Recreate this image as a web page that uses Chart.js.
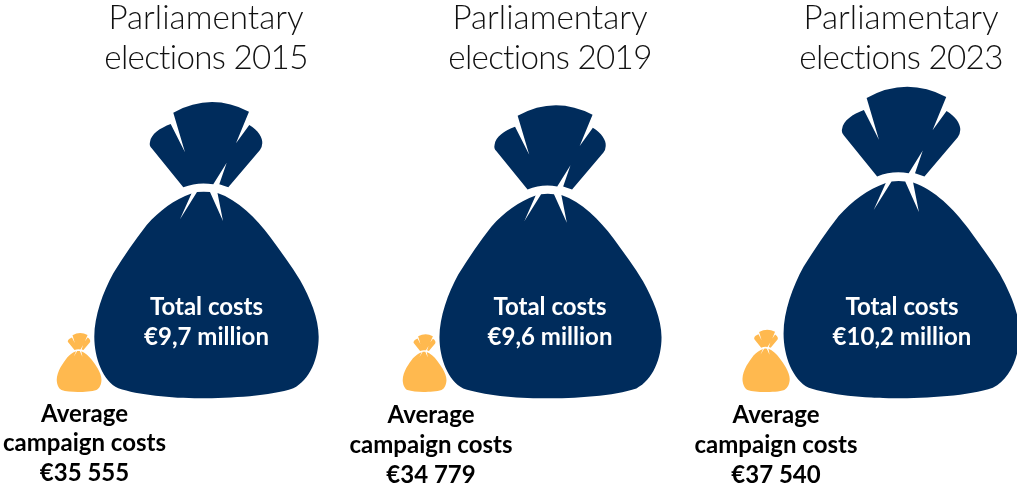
<!DOCTYPE html>
<html lang="en">
<head>
<meta charset="utf-8">
<title>Campaign costs</title>
<script src="https://cdn.jsdelivr.net/npm/chart.js@4"></script>
<style>
  html, body { margin: 0; background: #fff; }
  #wrap { position: relative; width: 1017px; height: 487px; overflow: hidden; }
</style>
</head>
<body>
<div id="wrap"><canvas id="bags"></canvas></div>
<script>
const years = [2015, 2019, 2023];
const totalCosts = [9.7, 9.6, 10.2];
const averageCosts = [35555, 34779, 37540];

const NAVY = "#002c5c";
const AMBER = "#ffb94f";

/* Bag outline, drawn for a bag 296 units tall, origin at the bottom centre */
const BAG_HEIGHT = 296;
function bagPath(ctx) {
  // neck and the three lobes
  ctx.moveTo(-32.7, -285.3);
  ctx.quadraticCurveTo(5, -306, 43, -286.3);
  ctx.lineTo(30, -254.7);
  ctx.lineTo(43.3, -273);
  ctx.bezierCurveTo(52, -268, 57, -260, 56.3, -254.7);
  ctx.quadraticCurveTo(56, -250, 54, -248);
  ctx.lineTo(22.3, -210.7);
  ctx.lineTo(13.3, -213.7);
  ctx.lineTo(20.7, -235.3);
  ctx.lineTo(7.3, -213.7);
  ctx.quadraticCurveTo(-8, -216.5, -22.7, -210.7);
  ctx.lineTo(-54.3, -249.7);
  ctx.quadraticCurveTo(-57, -252, -56, -256);
  ctx.bezierCurveTo(-55, -264, -46, -270, -35.3, -274);
  ctx.lineTo(-21, -245.7);
  ctx.closePath();
  // body with the two creases under the neck
  ctx.moveTo(-14.5, -204.5);
  ctx.lineTo(-26, -178.7);
  ctx.lineTo(-9, -206);
  ctx.quadraticCurveTo(-2, -206.6, 4, -206);
  ctx.lineTo(17, -177);
  ctx.lineTo(11.5, -205);
  ctx.bezierCurveTo(32, -198, 50, -180, 64, -161.3);
  ctx.bezierCurveTo(75, -146, 85, -133, 94, -118);
  ctx.bezierCurveTo(104, -100, 112.7, -80, 112.7, -61.3);
  ctx.bezierCurveTo(112.7, -40, 104, -18, 87.3, -9.7);
  ctx.bezierCurveTo(65, -2, 25, 0.3, -6, 0.3);
  ctx.bezierCurveTo(-35, 0.3, -68, -3, -87.7, -9.7);
  ctx.bezierCurveTo(-103, -17, -111.7, -40, -111.7, -61.3);
  ctx.bezierCurveTo(-111.7, -82, -103, -106, -92.7, -124.7);
  ctx.bezierCurveTo(-82, -142, -71, -158, -59.3, -173);
  ctx.bezierCurveTo(-46, -188, -32, -198, -14.5, -204.5);
  ctx.closePath();
}

/* The columns are not quite evenly spaced, so each bag gets a small sideways shift */
const totalBagShift = [0, -3.5, 0];
const averageBagShift = [0, 2, 0];

/* Text anchors per column */
const titleCentre = [206, 550, 901];
const totalCentre = [206.5, 550, 902];
const averageCentre = [84.5, 431, 776];
const averageFirstLine = [414, 415, 415];
const averageStep = [29.5, 30, 30];

const TITLE_FONT = "300 33.2px Lato";
const LABEL_FONT = "700 24px Lato";

const euro = (n) => String(n).replace(/\B(?=(\d{3})+$)/g, " ");

const bagPlugin = {
  id: "bags",
  afterDatasetsDraw(chart) {
    const { ctx } = chart;
    chart.data.datasets.forEach((ds, d) => {
      const meta = chart.getDatasetMeta(d);
      const base = chart.scales[ds.yAxisID].getPixelForValue(0);
      meta.data.forEach((pt, i) => {
        const s = (base - pt.y) / BAG_HEIGHT;
        ctx.save();
        ctx.translate(pt.x + ds.bagShift[i], base);
        ctx.scale(s, s);
        ctx.fillStyle = ds.bagColor;
        ctx.beginPath();
        bagPath(ctx);
        ctx.fill();
        ctx.restore();
      });
    });

    ctx.save();
    ctx.textAlign = "center";
    ctx.textBaseline = "middle";
    years.forEach((year, i) => {
      ctx.fillStyle = "#111";
      ctx.font = TITLE_FONT;
      ctx.letterSpacing = "0.01px"; // keeps Lato from joining "ti" into a ligature
      ctx.fillText("Parliamentary", titleCentre[i], 18);
      ctx.letterSpacing = "-0.7px";
      ctx.fillText(`elections ${year}`, titleCentre[i], 58);

      ctx.letterSpacing = "0.01px";
      ctx.font = LABEL_FONT;
      ctx.fillStyle = "#fff";
      ctx.fillText("Total costs", totalCentre[i], 307);
      ctx.fillText(`€${String(totalCosts[i]).replace(".", ",")} million`, totalCentre[i], 337);

      ctx.fillStyle = "#000";
      const y0 = averageFirstLine[i];
      const step = averageStep[i];
      ctx.fillText("Average", averageCentre[i], y0);
      ctx.fillText("campaign costs", averageCentre[i], y0 + step);
      ctx.fillText(`€${euro(averageCosts[i])}`, averageCentre[i], y0 + step * 2);
    });
    ctx.restore();
  },
};

new Chart(document.getElementById("bags"), {
  type: "scatter",
  data: {
    datasets: [
      {
        label: "Total costs",
        data: years.map((y, i) => ({ x: y, y: totalCosts[i] })),
        xAxisID: "x",
        yAxisID: "y",
        bagColor: NAVY,
        bagShift: totalBagShift,
        pointRadius: 0,
      },
      {
        label: "Average campaign costs",
        data: years.map((y, i) => ({ x: y, y: averageCosts[i] })),
        xAxisID: "xAvg",
        yAxisID: "yAvg",
        bagColor: AMBER,
        bagShift: averageBagShift,
        pointRadius: 0,
      },
    ],
  },
  options: {
    responsive: true,
    maintainAspectRatio: false,
    animation: false,
    layout: { padding: 0 },
    plugins: { legend: { display: false }, tooltip: { enabled: false } },
    scales: {
      x: { type: "linear", display: false, min: 2012.629, max: 2024.335 },
      y: { display: false, min: -2.917, max: 13.043 },
      xAvg: { type: "linear", display: false, min: 2014.08, max: 2025.923 },
      yAvg: { display: false, min: -57250, max: 236230 },
    },
  },
  plugins: [bagPlugin],
});
</script>
</body>
</html>
